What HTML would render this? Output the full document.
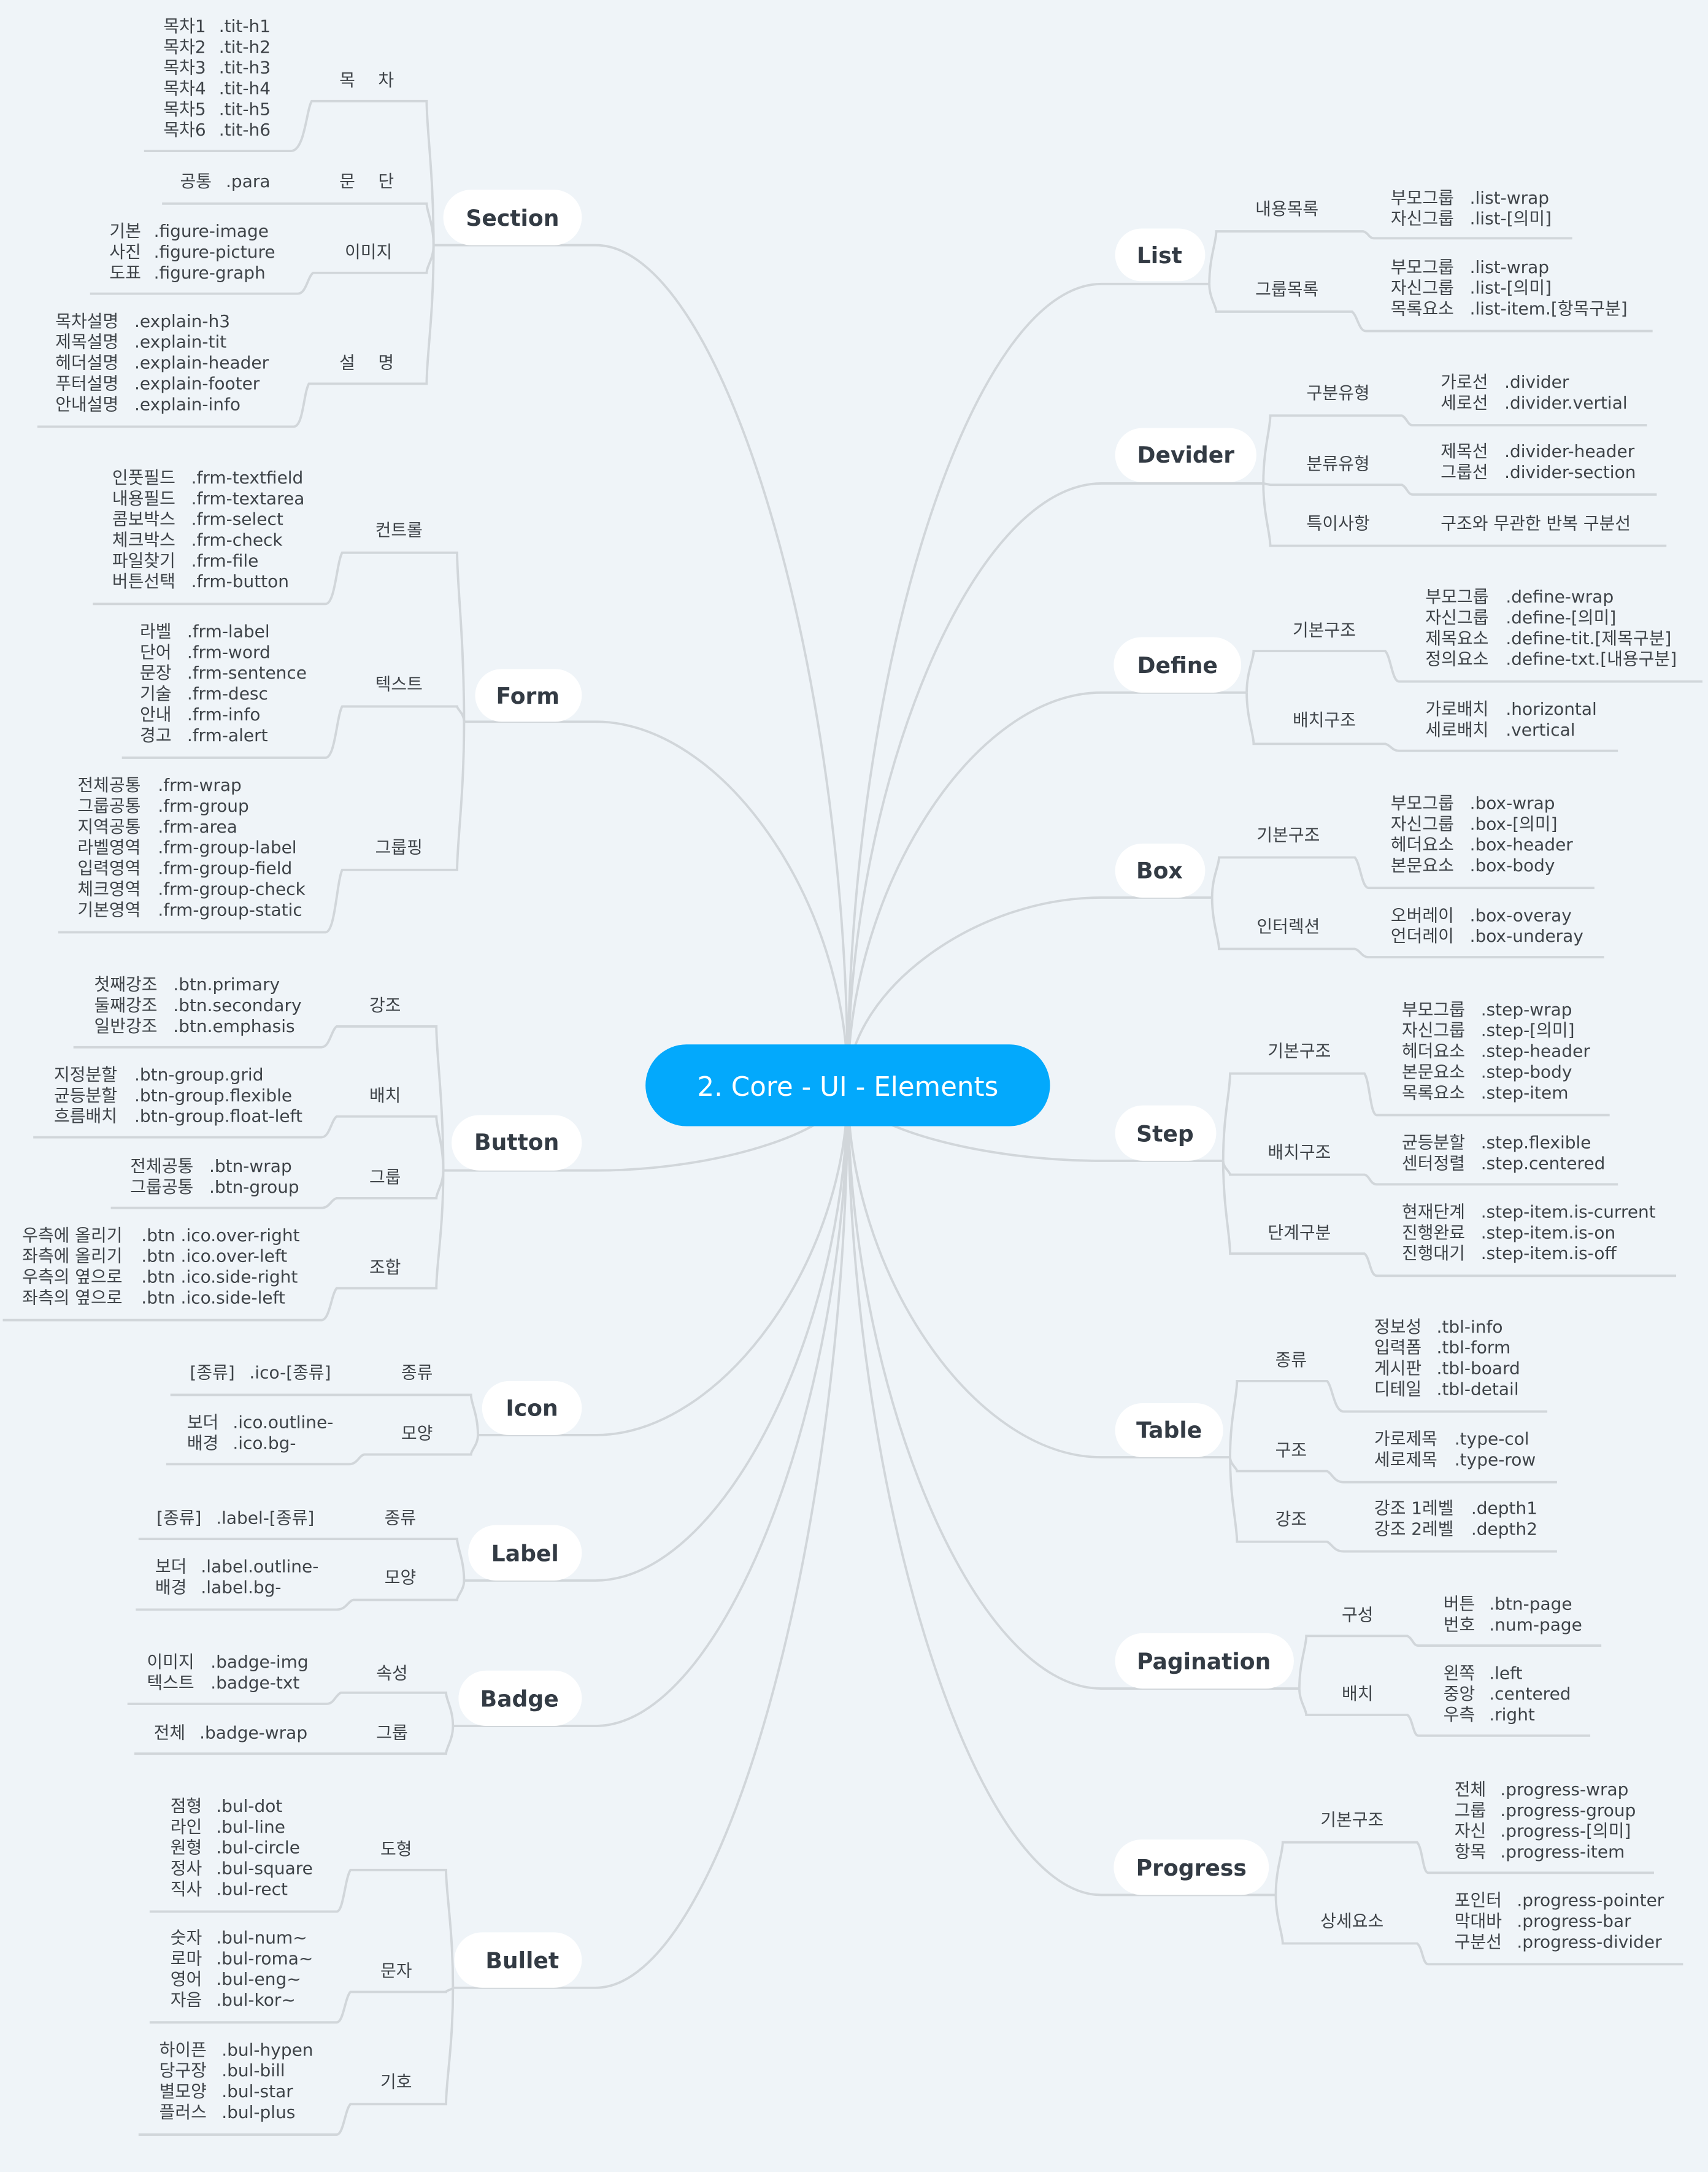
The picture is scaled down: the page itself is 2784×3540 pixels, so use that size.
<!DOCTYPE html>
<html><head><meta charset="utf-8"><style>
html,body{margin:0;padding:0;background:#eff4f8;}
svg{display:block}
text{font-family:"DejaVu Sans","Noto Sans CJK KR",sans-serif;fill:#3e4348;font-size:12.4px}
.m{font-weight:bold;font-size:16px;fill:#333b44;text-anchor:middle}
.s{text-anchor:middle}
path{fill:none;stroke:#d1d6da;stroke-width:1.7}
</style></head><body>
<svg width="2784" height="3540" viewBox="0 0 1233 1568" preserveAspectRatio="none" xmlns="http://www.w3.org/2000/svg">
<rect width="1233" height="1568" fill="#eff4f8"/>
<g>
<!-- Section -->
<path d="M313,177 L430,177 C521,177 612,480 612,784"/>
<path d="M313,177 C313,125 308,94 308,73 L225,73 C221,80 220,109 210,109 L104,109"/>
<path d="M313,177 C313,162 308,152 308,147 L117,147"/>
<path d="M313,177 C313,187 308,192 308,197 L226,197 C222,200 221,212 215,212 L65,212"/>
<path d="M313,177 C313,229 308,256 308,277 L223,277 C219,284 219,308 212,308 L27,308"/>
<!-- Form -->
<path d="M335,521 L430,521 C521,521 612,650 612,784"/>
<path d="M335,521 C335,460 330,423 330,399 L247,399 C243,406 242,436 235,436 L67,436"/>
<path d="M335,521 C335,515 330,512 330,510 L247,510 C243,517 242,547 235,547 L88,547"/>
<path d="M335,521 C335,575 330,607 330,628 L247,628 C243,637 242,673 235,673 L42,673"/>
<!-- Button -->
<path d="M320,845 L430,845 C521,845 612,815 612,784"/>
<path d="M320,845 C320,793 315,762 315,741 L243,741 C239,744 238,756 232,756 L53,756"/>
<path d="M320,845 C320,826 315,814 315,806 L243,806 C239,809 238,821 232,821 L24,821"/>
<path d="M320,845 C320,855 315,861 315,865 L243,865 C239,866 238,872 232,872 L80,872"/>
<path d="M320,845 C320,888 315,913 315,930 L243,930 C239,935 238,953 232,953 L2,953"/>
<!-- Icon -->
<path d="M345,1036 L430,1036 C521,1036 612,910 612,784"/>
<path d="M345,1036 C345,1021 340,1013 340,1007 L123,1007"/>
<path d="M345,1036 C345,1043 340,1047 340,1050 L263,1050 C259,1051 258,1057 252,1057 L120,1057"/>
<!-- Label -->
<path d="M335,1141 L430,1141 C521,1141 612,960 612,784"/>
<path d="M335,1141 C335,1126 330,1117 330,1111 L100,1111"/>
<path d="M335,1141 C335,1148 330,1152 330,1155 L255,1155 C251,1156 250,1162 243,1162 L98,1162"/>
<!-- Badge -->
<path d="M327,1246 L430,1246 C521,1246 612,1015 612,784"/>
<path d="M327,1246 C327,1234 322,1227 322,1222 L246,1222 C242,1224 241,1230 236,1230 L92,1230"/>
<path d="M327,1246 C327,1256 322,1262 322,1266 L97,1266"/>
<!-- Bullet -->
<path d="M327,1435 L430,1435 C521,1435 612,1110 612,784"/>
<path d="M327,1435 C327,1392 322,1367 322,1350 L253,1350 C249,1356 248,1380 243,1380 L108,1380"/>
<path d="M327,1435 C327,1436 322,1437 322,1438 L253,1438 C249,1442 248,1460 243,1460 L108,1460"/>
<path d="M327,1435 C327,1477 322,1502 322,1519 L253,1519 C249,1523 248,1541 243,1541 L100,1541"/>
<!-- List -->
<path d="M612,784 C612,480 703,205 795,205 L873,205"/>
<path d="M873,205 C873,186 878,175 878,167 L984,167 C988,168 988,172 992,172 L1135,172"/>
<path d="M873,205 C873,215 878,221 878,225 L976,225 C980,228 981,239 986,239 L1193,239"/>
<!-- Devider -->
<path d="M612,784 C612,566 703,349 795,349 L912,349"/>
<path d="M912,349 C912,324 917,310 917,300 L1012,300 C1016,302 1016,307 1020,307 L1189,307"/>
<path d="M912,349 L917,350 L1012,350 C1016,352 1016,357 1020,357 L1196,357"/>
<path d="M912,349 C912,371 917,385 917,394 L1203,394"/>
<!-- Define -->
<path d="M612,784 C612,642 703,500 795,500 L900,500"/>
<path d="M900,500 C900,485 905,476 905,470 L1000,470 C1004,474 1005,492 1010,492 L1229,492"/>
<path d="M900,500 C900,518 905,530 905,537 L1000,537 C1004,538 1005,542 1010,542 L1168,542"/>
<!-- Box -->
<path d="M612,784 C612,716 703,648 795,648 L875,648"/>
<path d="M875,648 C875,633 880,625 880,619 L978,619 C982,623 983,641 988,641 L1151,641"/>
<path d="M875,648 C875,666 880,678 880,685 L978,685 C982,686 983,691 988,691 L1158,691"/>
<!-- Step -->
<path d="M612,784 C612,811 703,838 795,838 L883,838"/>
<path d="M883,838 C883,806 888,788 888,775 L985,775 C989,781 989,805 994,805 L1162,805"/>
<path d="M883,838 C883,843 888,846 888,848 L985,848 C989,849 989,855 994,855 L1168,855"/>
<path d="M883,838 C883,871 888,892 888,905 L985,905 C989,908 989,921 994,921 L1210,921"/>
<!-- Table -->
<path d="M612,784 C612,918 703,1052 795,1052 L888,1052"/>
<path d="M888,1052 C888,1024 893,1008 893,997 L958,997 C962,1001 963,1019 970,1019 L1117,1019"/>
<path d="M888,1052 C888,1057 893,1060 893,1062 L958,1062 C962,1064 963,1070 970,1070 L1124,1070"/>
<path d="M888,1052 C888,1082 893,1101 893,1113 L958,1113 C962,1115 963,1120 970,1120 L1124,1120"/>
<!-- Pagination -->
<path d="M612,784 C612,1000 703,1219 795,1219 L938,1219"/>
<path d="M938,1219 C938,1200 943,1189 943,1181 L1016,1181 C1020,1183 1020,1188 1024,1188 L1156,1188"/>
<path d="M938,1219 C938,1228 943,1234 943,1238 L1016,1238 C1020,1241 1020,1253 1024,1253 L1148,1253"/>
<!-- Progress -->
<path d="M612,784 C612,1076 703,1368 795,1368 L921,1368"/>
<path d="M921,1368 C921,1349 926,1338 926,1330 L1023,1330 C1027,1334 1027,1352 1031,1352 L1194,1352"/>
<path d="M921,1368 C921,1385 926,1396 926,1403 L1023,1403 C1027,1406 1027,1418 1031,1418 L1215,1418"/>
</g>

<!-- pills -->
<g fill="#ffffff">
<rect x="320" y="137" width="100" height="40" rx="20"/>
<rect x="343" y="483" width="77" height="38" rx="19"/>
<rect x="326" y="805" width="94" height="40" rx="20"/>
<rect x="348" y="997" width="72" height="39" rx="19.5"/>
<rect x="338" y="1101" width="82" height="40" rx="20"/>
<rect x="331" y="1206" width="89" height="40" rx="20"/>
<rect x="328" y="1395" width="92" height="40" rx="20"/>
<rect x="805" y="165" width="65" height="38" rx="19"/>
<rect x="805" y="309" width="102" height="39" rx="19.5"/>
<rect x="804" y="460" width="92" height="40" rx="20"/>
<rect x="805" y="609" width="65" height="39" rx="19.5"/>
<rect x="805" y="798" width="73" height="40" rx="20"/>
<rect x="805" y="1013" width="78" height="39" rx="19.5"/>
<rect x="805" y="1179" width="129" height="40" rx="20"/>
<rect x="804" y="1328" width="112" height="40" rx="20"/>
</g>
<rect x="466" y="754" width="292" height="59" rx="29.5" fill="#03a9fc"/>
<text x="612" y="791" style="font-size:19.3px;fill:#ffffff;text-anchor:middle">2. Core - UI - Elements</text>

<text class="m" x="370" y="163">Section</text>
<text class="m" x="381" y="508">Form</text>
<text class="m" x="373" y="830">Button</text>
<text class="m" x="384" y="1022">Icon</text>
<text class="m" x="379" y="1127">Label</text>
<text class="m" x="375" y="1232">Badge</text>
<text class="m" x="377" y="1421">Bullet</text>
<text class="m" x="837" y="190">List</text>
<text class="m" x="856" y="334">Devider</text>
<text class="m" x="850" y="486">Define</text>
<text class="m" x="837" y="634">Box</text>
<text class="m" x="841" y="824">Step</text>
<text class="m" x="844" y="1038">Table</text>
<text class="m" x="869" y="1205">Pagination</text>
<text class="m" x="860" y="1354">Progress</text>

<!-- Section subs -->
<text x="245" y="62">목</text><text x="273" y="62">차</text>
<text x="245" y="135">문</text><text x="273" y="135">단</text>
<text class="s" x="266" y="186">이미지</text>
<text x="245" y="266">설</text><text x="273" y="266">명</text>
<text y="23"><tspan x="118">목차1</tspan><tspan x="158">.tit-h1</tspan></text>
<text y="38"><tspan x="118">목차2</tspan><tspan x="158">.tit-h2</tspan></text>
<text y="53"><tspan x="118">목차3</tspan><tspan x="158">.tit-h3</tspan></text>
<text y="68"><tspan x="118">목차4</tspan><tspan x="158">.tit-h4</tspan></text>
<text y="83"><tspan x="118">목차5</tspan><tspan x="158">.tit-h5</tspan></text>
<text y="98"><tspan x="118">목차6</tspan><tspan x="158">.tit-h6</tspan></text>
<text y="135"><tspan x="130">공통</tspan><tspan x="163">.para</tspan></text>
<text y="171"><tspan x="79">기본</tspan><tspan x="111">.figure-image</tspan></text>
<text y="186"><tspan x="79">사진</tspan><tspan x="111">.figure-picture</tspan></text>
<text y="201"><tspan x="79">도표</tspan><tspan x="111">.figure-graph</tspan></text>
<text y="236"><tspan x="40">목차설명</tspan><tspan x="97">.explain-h3</tspan></text>
<text y="251"><tspan x="40">제목설명</tspan><tspan x="97">.explain-tit</tspan></text>
<text y="266"><tspan x="40">헤더설명</tspan><tspan x="97">.explain-header</tspan></text>
<text y="281"><tspan x="40">푸터설명</tspan><tspan x="97">.explain-footer</tspan></text>
<text y="296"><tspan x="40">안내설명</tspan><tspan x="97">.explain-info</tspan></text>

<!-- Form -->
<text class="s" x="288" y="387">컨트롤</text>
<text class="s" x="288" y="498">텍스트</text>
<text class="s" x="288" y="616">그룹핑</text>
<text y="349"><tspan x="81">인풋필드</tspan><tspan x="138">.frm-textfield</tspan></text>
<text y="364"><tspan x="81">내용필드</tspan><tspan x="138">.frm-textarea</tspan></text>
<text y="379"><tspan x="81">콤보박스</tspan><tspan x="138">.frm-select</tspan></text>
<text y="394"><tspan x="81">체크박스</tspan><tspan x="138">.frm-check</tspan></text>
<text y="409"><tspan x="81">파일찾기</tspan><tspan x="138">.frm-file</tspan></text>
<text y="424"><tspan x="81">버튼선택</tspan><tspan x="138">.frm-button</tspan></text>
<text y="460"><tspan x="101">라벨</tspan><tspan x="135">.frm-label</tspan></text>
<text y="475"><tspan x="101">단어</tspan><tspan x="135">.frm-word</tspan></text>
<text y="490"><tspan x="101">문장</tspan><tspan x="135">.frm-sentence</tspan></text>
<text y="505"><tspan x="101">기술</tspan><tspan x="135">.frm-desc</tspan></text>
<text y="520"><tspan x="101">안내</tspan><tspan x="135">.frm-info</tspan></text>
<text y="535"><tspan x="101">경고</tspan><tspan x="135">.frm-alert</tspan></text>
<text y="571"><tspan x="56">전체공통</tspan><tspan x="114">.frm-wrap</tspan></text>
<text y="586"><tspan x="56">그룹공통</tspan><tspan x="114">.frm-group</tspan></text>
<text y="601"><tspan x="56">지역공통</tspan><tspan x="114">.frm-area</tspan></text>
<text y="616"><tspan x="56">라벨영역</tspan><tspan x="114">.frm-group-label</tspan></text>
<text y="631"><tspan x="56">입력영역</tspan><tspan x="114">.frm-group-field</tspan></text>
<text y="646"><tspan x="56">체크영역</tspan><tspan x="114">.frm-group-check</tspan></text>
<text y="661"><tspan x="56">기본영역</tspan><tspan x="114">.frm-group-static</tspan></text>

<!-- Button -->
<text class="s" x="278" y="730">강조</text>
<text class="s" x="278" y="795">배치</text>
<text class="s" x="278" y="854">그룹</text>
<text class="s" x="278" y="919">조합</text>
<text y="715"><tspan x="68">첫째강조</tspan><tspan x="125">.btn.primary</tspan></text>
<text y="730"><tspan x="68">둘째강조</tspan><tspan x="125">.btn.secondary</tspan></text>
<text y="745"><tspan x="68">일반강조</tspan><tspan x="125">.btn.emphasis</tspan></text>
<text y="780"><tspan x="39">지정분할</tspan><tspan x="97">.btn-group.grid</tspan></text>
<text y="795"><tspan x="39">균등분할</tspan><tspan x="97">.btn-group.flexible</tspan></text>
<text y="810"><tspan x="39">흐름배치</tspan><tspan x="97">.btn-group.float-left</tspan></text>
<text y="846"><tspan x="94">전체공통</tspan><tspan x="151">.btn-wrap</tspan></text>
<text y="861"><tspan x="94">그룹공통</tspan><tspan x="151">.btn-group</tspan></text>
<text y="896"><tspan x="16">우측에 올리기</tspan><tspan x="102">.btn .ico.over-right</tspan></text>
<text y="911"><tspan x="16">좌측에 올리기</tspan><tspan x="102">.btn .ico.over-left</tspan></text>
<text y="926"><tspan x="16">우측의 옆으로</tspan><tspan x="102">.btn .ico.side-right</tspan></text>
<text y="941"><tspan x="16">좌측의 옆으로</tspan><tspan x="102">.btn .ico.side-left</tspan></text>

<!-- Icon -->
<text class="s" x="301" y="995">종류</text>
<text class="s" x="301" y="1039">모양</text>
<text y="995"><tspan x="137">[종류]</tspan><tspan x="180">.ico-[종류]</tspan></text>
<text y="1031"><tspan x="135">보더</tspan><tspan x="168">.ico.outline-</tspan></text>
<text y="1046"><tspan x="135">배경</tspan><tspan x="168">.ico.bg-</tspan></text>

<!-- Label -->
<text class="s" x="289" y="1100">종류</text>
<text class="s" x="289" y="1143">모양</text>
<text y="1100"><tspan x="113">[종류]</tspan><tspan x="156">.label-[종류]</tspan></text>
<text y="1135"><tspan x="112">보더</tspan><tspan x="145">.label.outline-</tspan></text>
<text y="1150"><tspan x="112">배경</tspan><tspan x="145">.label.bg-</tspan></text>

<!-- Badge -->
<text class="s" x="283" y="1212">속성</text>
<text class="s" x="283" y="1255">그룹</text>
<text y="1204"><tspan x="106">이미지</tspan><tspan x="152">.badge-img</tspan></text>
<text y="1219"><tspan x="106">텍스트</tspan><tspan x="152">.badge-txt</tspan></text>
<text y="1255"><tspan x="111">전체</tspan><tspan x="144">.badge-wrap</tspan></text>

<!-- Bullet -->
<text class="s" x="286" y="1339">도형</text>
<text class="s" x="286" y="1427">문자</text>
<text class="s" x="286" y="1507">기호</text>
<text y="1308"><tspan x="123">점형</tspan><tspan x="156">.bul-dot</tspan></text>
<text y="1323"><tspan x="123">라인</tspan><tspan x="156">.bul-line</tspan></text>
<text y="1338"><tspan x="123">원형</tspan><tspan x="156">.bul-circle</tspan></text>
<text y="1353"><tspan x="123">정사</tspan><tspan x="156">.bul-square</tspan></text>
<text y="1368"><tspan x="123">직사</tspan><tspan x="156">.bul-rect</tspan></text>
<text y="1403"><tspan x="123">숫자</tspan><tspan x="156">.bul-num~</tspan></text>
<text y="1418"><tspan x="123">로마</tspan><tspan x="156">.bul-roma~</tspan></text>
<text y="1433"><tspan x="123">영어</tspan><tspan x="156">.bul-eng~</tspan></text>
<text y="1448"><tspan x="123">자음</tspan><tspan x="156">.bul-kor~</tspan></text>
<text y="1484"><tspan x="115">하이픈</tspan><tspan x="160">.bul-hypen</tspan></text>
<text y="1499"><tspan x="115">당구장</tspan><tspan x="160">.bul-bill</tspan></text>
<text y="1514"><tspan x="115">별모양</tspan><tspan x="160">.bul-star</tspan></text>
<text y="1529"><tspan x="115">플러스</tspan><tspan x="160">.bul-plus</tspan></text>

<!-- List -->
<text class="s" x="929" y="155">내용목록</text>
<text class="s" x="929" y="213">그룹목록</text>
<text y="147"><tspan x="1004">부모그룹</tspan><tspan x="1061">.list-wrap</tspan></text>
<text y="162"><tspan x="1004">자신그룹</tspan><tspan x="1061">.list-[의미]</tspan></text>
<text y="197"><tspan x="1004">부모그룹</tspan><tspan x="1061">.list-wrap</tspan></text>
<text y="212"><tspan x="1004">자신그룹</tspan><tspan x="1061">.list-[의미]</tspan></text>
<text y="227"><tspan x="1004">목록요소</tspan><tspan x="1061">.list-item.[항목구분]</tspan></text>

<!-- Devider -->
<text class="s" x="966" y="288">구분유형</text>
<text class="s" x="966" y="339">분류유형</text>
<text class="s" x="966" y="382">특이사항</text>
<text y="280"><tspan x="1040">가로선</tspan><tspan x="1086">.divider</tspan></text>
<text y="295"><tspan x="1040">세로선</tspan><tspan x="1086">.divider.vertial</tspan></text>
<text y="330"><tspan x="1040">제목선</tspan><tspan x="1086">.divider-header</tspan></text>
<text y="345"><tspan x="1040">그룹선</tspan><tspan x="1086">.divider-section</tspan></text>
<text x="1040" y="382">구조와 무관한 반복 구분선</text>

<!-- Define -->
<text class="s" x="956" y="459">기본구조</text>
<text class="s" x="956" y="524">배치구조</text>
<text y="435"><tspan x="1029">부모그룹</tspan><tspan x="1087">.define-wrap</tspan></text>
<text y="450"><tspan x="1029">자신그룹</tspan><tspan x="1087">.define-[의미]</tspan></text>
<text y="465"><tspan x="1029">제목요소</tspan><tspan x="1087">.define-tit.[제목구분]</tspan></text>
<text y="480"><tspan x="1029">정의요소</tspan><tspan x="1087">.define-txt.[내용구분]</tspan></text>
<text y="516"><tspan x="1029">가로배치</tspan><tspan x="1087">.horizontal</tspan></text>
<text y="531"><tspan x="1029">세로배치</tspan><tspan x="1087">.vertical</tspan></text>

<!-- Box -->
<text class="s" x="930" y="607">기본구조</text>
<text class="s" x="930" y="673">인터렉션</text>
<text y="584"><tspan x="1004">부모그룹</tspan><tspan x="1061">.box-wrap</tspan></text>
<text y="599"><tspan x="1004">자신그룹</tspan><tspan x="1061">.box-[의미]</tspan></text>
<text y="614"><tspan x="1004">헤더요소</tspan><tspan x="1061">.box-header</tspan></text>
<text y="629"><tspan x="1004">본문요소</tspan><tspan x="1061">.box-body</tspan></text>
<text y="665"><tspan x="1004">오버레이</tspan><tspan x="1061">.box-overay</tspan></text>
<text y="680"><tspan x="1004">언더레이</tspan><tspan x="1061">.box-underay</tspan></text>

<!-- Step -->
<text class="s" x="938" y="763">기본구조</text>
<text class="s" x="938" y="836">배치구조</text>
<text class="s" x="938" y="894">단계구분</text>
<text y="733"><tspan x="1012">부모그룹</tspan><tspan x="1069">.step-wrap</tspan></text>
<text y="748"><tspan x="1012">자신그룹</tspan><tspan x="1069">.step-[의미]</tspan></text>
<text y="763"><tspan x="1012">헤더요소</tspan><tspan x="1069">.step-header</tspan></text>
<text y="778"><tspan x="1012">본문요소</tspan><tspan x="1069">.step-body</tspan></text>
<text y="793"><tspan x="1012">목록요소</tspan><tspan x="1069">.step-item</tspan></text>
<text y="829"><tspan x="1012">균등분할</tspan><tspan x="1069">.step.flexible</tspan></text>
<text y="844"><tspan x="1012">센터정렬</tspan><tspan x="1069">.step.centered</tspan></text>
<text y="879"><tspan x="1012">현재단계</tspan><tspan x="1069">.step-item.is-current</tspan></text>
<text y="894"><tspan x="1012">진행완료</tspan><tspan x="1069">.step-item.is-on</tspan></text>
<text y="909"><tspan x="1012">진행대기</tspan><tspan x="1069">.step-item.is-off</tspan></text>

<!-- Table -->
<text class="s" x="932" y="986">종류</text>
<text class="s" x="932" y="1051">구조</text>
<text class="s" x="932" y="1101">강조</text>
<text y="962"><tspan x="992">정보성</tspan><tspan x="1037">.tbl-info</tspan></text>
<text y="977"><tspan x="992">입력폼</tspan><tspan x="1037">.tbl-form</tspan></text>
<text y="992"><tspan x="992">게시판</tspan><tspan x="1037">.tbl-board</tspan></text>
<text y="1007"><tspan x="992">디테일</tspan><tspan x="1037">.tbl-detail</tspan></text>
<text y="1043"><tspan x="992">가로제목</tspan><tspan x="1050">.type-col</tspan></text>
<text y="1058"><tspan x="992">세로제목</tspan><tspan x="1050">.type-row</tspan></text>
<text y="1093"><tspan x="992">강조 1레벨</tspan><tspan x="1062">.depth1</tspan></text>
<text y="1108"><tspan x="992">강조 2레벨</tspan><tspan x="1062">.depth2</tspan></text>

<!-- Pagination -->
<text class="s" x="980" y="1170">구성</text>
<text class="s" x="980" y="1227">배치</text>
<text y="1162"><tspan x="1042">버튼</tspan><tspan x="1075">.btn-page</tspan></text>
<text y="1177"><tspan x="1042">번호</tspan><tspan x="1075">.num-page</tspan></text>
<text y="1212"><tspan x="1042">왼쪽</tspan><tspan x="1075">.left</tspan></text>
<text y="1227"><tspan x="1042">중앙</tspan><tspan x="1075">.centered</tspan></text>
<text y="1242"><tspan x="1042">우측</tspan><tspan x="1075">.right</tspan></text>

<!-- Progress -->
<text class="s" x="976" y="1318">기본구조</text>
<text class="s" x="976" y="1391">상세요소</text>
<text y="1296"><tspan x="1050">전체</tspan><tspan x="1083">.progress-wrap</tspan></text>
<text y="1311"><tspan x="1050">그룹</tspan><tspan x="1083">.progress-group</tspan></text>
<text y="1326"><tspan x="1050">자신</tspan><tspan x="1083">.progress-[의미]</tspan></text>
<text y="1341"><tspan x="1050">항목</tspan><tspan x="1083">.progress-item</tspan></text>
<text y="1376"><tspan x="1050">포인터</tspan><tspan x="1095">.progress-pointer</tspan></text>
<text y="1391"><tspan x="1050">막대바</tspan><tspan x="1095">.progress-bar</tspan></text>
<text y="1406"><tspan x="1050">구분선</tspan><tspan x="1095">.progress-divider</tspan></text>
</svg>
</body></html>
